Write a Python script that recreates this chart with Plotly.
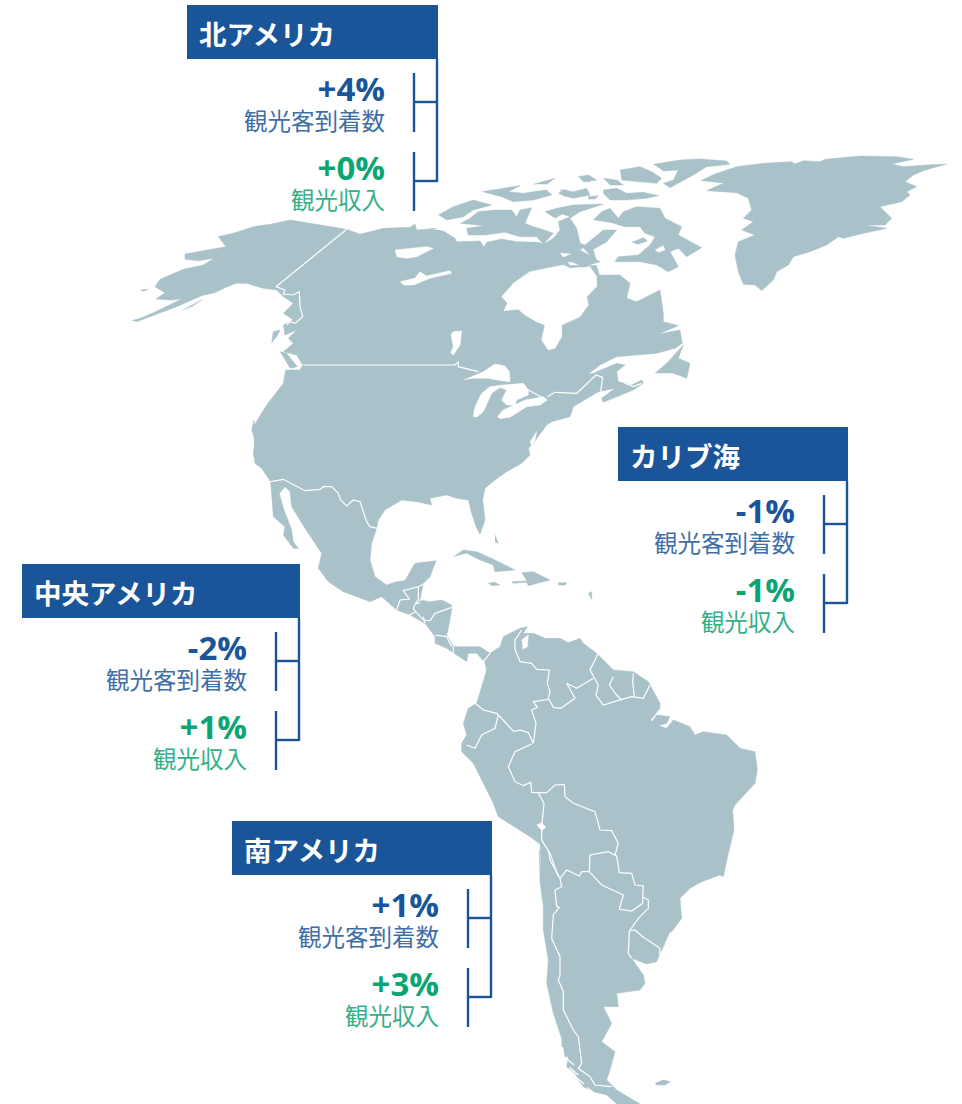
import plotly.graph_objects as go

W, H = 962, 1104
LAND = "#a9c1c9"
BLUE = "#1a5599"
GREEN = "#0ba574"
FONT = "Open Sans, Noto Sans CJK JP, sans-serif"
JP = "Noto Sans CJK JP, sans-serif"

regions = ["北アメリカ", "カリブ海", "中央アメリカ", "南アメリカ"]
arrivals = ["+4%", "-1%", "-2%", "+1%"]
revenue = ["+0%", "-1%", "+1%", "+3%"]
arrivals_label = "観光客到着数"
revenue_label = "観光収入"


def Z(x0, y0, pts):
    return [(x0 + a / 3, y0 + b / 3) for a, b in pts]


def N(p): return Z(120, 150, p)
def G(p): return Z(430, 150, p)
def C(p): return Z(250, 420, p)
def A(p): return Z(440, 620, p)
def S(p): return Z(500, 850, p)
def R1(p): return Z(430, 155, p)
def R2(p): return Z(560, 155, p)
def R3(p): return Z(460, 340, p)


north_america = (
    N([(35, 512), (60, 505), (100, 488), (140, 468), (185, 447), (150, 450), (108, 447), (135, 428), (105, 410), (120, 388),
       (190, 358), (250, 345), (282, 325), (235, 332), (195, 328), (195, 312), (260, 300), (318, 290), (295, 260), (345, 248),
       (400, 230), (455, 222), (510, 210), (600, 225), (680, 238), (720, 253), (790, 235), (870, 232), (885, 222), (890, 240),
       (950, 235)])
    + R1([(0, 222), (40, 228), (75, 250), (80, 260), (150, 258), (162, 275), (170, 262), (215, 252), (260, 260), (325, 262),
          (340, 268), (345, 265), (370, 250), (390, 225), (385, 200), (420, 185)])
    + R2([(-10, 170), (40, 150), (130, 147), (60, 170), (30, 190), (50, 220), (60, 265), (75, 270), (130, 225), (170, 225),
          (140, 260), (80, 295), (20, 298)])
    + G([(490, 300), (510, 375), (570, 375), (600, 400), (590, 445), (620, 455), (690, 420), (700, 490), (700, 515), (745, 527),
         (685, 552), (750, 540), (757, 580), (735, 595), (680, 610), (620, 615), (560, 620), (510, 645), (475, 672), (490, 670),
         (560, 640), (585, 645), (560, 665), (565, 695), (605, 705), (635, 690), (640, 700), (610, 720), (520, 757), (515, 745),
         (555, 715), (505, 725), (430, 770), (420, 800), (365, 815), (350, 825), (310, 880), (290, 900)])
    + C([(835, 85), (840, 105), (815, 130), (770, 155), (735, 180), (705, 205), (698, 240), (705, 300), (690, 342), (678, 320),
         (665, 280), (655, 240), (620, 235), (590, 225), (540, 235), (545, 255), (500, 245), (455, 240), (405, 270), (385, 300),
         (380, 325), (365, 370), (360, 420), (375, 470), (410, 495), (440, 485), (465, 482), (480, 455), (495, 430), (558, 422),
         (540, 470), (520, 490), (510, 540), (540, 545), (575, 540), (605, 555), (605, 570), (595, 625), (590, 645), (610, 680),
         (640, 680), (690, 680), (720, 700), (700, 722), (680, 700), (655, 700), (650, 725), (610, 700), (590, 685), (555, 670),
         (555, 650), (525, 610), (480, 585), (440, 570), (395, 530), (360, 545), (280, 515), (235, 485), (205, 445), (215, 400),
         (165, 325), (125, 260), (120, 215), (105, 200), (88, 220), (100, 265), (125, 330), (130, 365), (145, 385), (130, 385),
         (100, 345), (105, 320), (70, 290), (62, 185), (35, 145), (15, 130), (10, 100), (15, 60), (5, 30), (12, 0)])
    + N([(405, 900), (400, 830), (425, 790), (440, 765), (490, 700), (497, 660), (540, 660), (548, 645), (530, 615), (490, 605),
         (520, 580), (505, 565), (530, 540), (495, 555), (490, 525), (520, 510), (490, 490), (520, 460), (490, 440), (470, 420),
         (430, 415), (380, 400), (350, 400), (250, 435), (170, 470), (100, 495), (50, 515)])
)

south_america = (
    A([(135, 100), (150, 100), (180, 80), (190, 50), (240, 25), (262, 20), (250, 40), (280, 40), (315, 55), (360, 55), (385, 68),
       (420, 55), (430, 70), (470, 100), (520, 150), (580, 155), (625, 185), (660, 250), (660, 265), (632, 300), (640, 312),
       (680, 325), (700, 300), (750, 320), (765, 345), (790, 335), (860, 345), (900, 385), (945, 395), (952, 450), (945, 490),
       (885, 555), (878, 570), (882, 630), (865, 700), (850, 770)])
    + S([(660, 75), (605, 95), (570, 115), (540, 145), (545, 205), (515, 245), (490, 290), (480, 310), (470, 335), (440, 342),
         (395, 325), (430, 375), (435, 400), (420, 420), (350, 430), (355, 470), (310, 470), (335, 520), (305, 575), (345, 605),
         (330, 660), (320, 690), (350, 720), (420, 762), (350, 762), (320, 735), (280, 725), (250, 710), (235, 690), (225, 670),
         (200, 650), (205, 620), (195, 620), (185, 565), (160, 490), (140, 400), (145, 330), (130, 240), (130, 170), (120, 95),
         (118, 0)])
    + A([(305, 780), (300, 672), (270, 650), (175, 590), (160, 550), (100, 430), (65, 395), (65, 370), (80, 345), (70, 310),
         (85, 265), (110, 250), (140, 150), (130, 110)])
)

greenland = G([(812, 92), (855, 72), (920, 50), (1000, 40), (1085, 35), (1095, 42), (1120, 32), (1170, 35), (1185, 28), (1290, 18),
               (1400, 20), (1450, 28), (1385, 42), (1420, 50), (1490, 45), (1550, 42), (1480, 62), (1450, 75), (1425, 95), (1460, 110),
               (1430, 125), (1440, 135), (1415, 155), (1350, 170), (1385, 205), (1365, 225), (1305, 225), (1370, 235), (1300, 250),
               (1240, 265), (1225, 260), (1190, 285), (1140, 305), (1090, 320), (1075, 345), (1040, 365), (1030, 390), (995, 422),
               (975, 405), (940, 403), (925, 365), (915, 315), (925, 275), (975, 255), (935, 240), (970, 215), (940, 205), (965, 180),
               (955, 145), (920, 128), (830, 122), (880, 100)])
baffin = R2([(100, 195), (125, 170), (150, 160), (175, 190), (190, 170), (230, 155), (300, 160), (315, 190), (365, 215), (355, 240),
             (425, 278), (380, 305), (355, 280), (330, 290), (355, 335), (325, 350), (290, 330), (240, 320), (165, 320), (175, 305),
             (235, 300), (270, 270), (285, 245), (255, 235), (240, 215), (195, 215), (160, 205)])
banks = R1([(25, 180), (70, 155), (130, 135), (185, 150), (130, 165), (100, 185), (50, 195)])
victoria = R1([(120, 190), (145, 170), (195, 165), (245, 165), (260, 185), (270, 165), (305, 158), (285, 205), (310, 215), (335, 222),
               (370, 235), (340, 268), (320, 245), (270, 245), (225, 232), (165, 240), (115, 240), (110, 220), (165, 212), (90, 205)])

islands = [
    baffin, banks, victoria, greenland,
    R1([(155, 110), (215, 100), (270, 92), (235, 110), (280, 115), (310, 110), (350, 105), (365, 120), (310, 135), (250, 140), (215, 125), (185, 118)]),
    R1([(310, 88), (375, 70), (350, 88)]),
    R1([(385, 115), (400, 105), (430, 110), (470, 100), (480, 120), (430, 130), (400, 122)]),
    R1([(345, 170), (380, 160), (430, 150), (440, 165), (400, 175), (375, 190)]),
    R1([(445, 65), (480, 65), (480, 80), (460, 80)]),
    R1([(440, 352), (470, 345), (455, 362)]),
    R2([(55, 65), (85, 60), (110, 75), (80, 80)]),
    R2([(0, 105), (20, 105), (30, 120), (60, 105), (70, 120), (30, 128)]),
    R2([(130, 70), (170, 75), (190, 90), (150, 90)]),
    R2([(85, 125), (115, 122), (105, 132), (85, 132)]),
    R2([(130, 105), (170, 100), (200, 115), (250, 112), (295, 122), (260, 130), (200, 135), (150, 135), (130, 115)]),
    R2([(180, 45), (240, 35), (275, 50), (305, 70), (290, 85), (235, 80), (185, 75)]),
    R2([(280, 28), (360, 15), (420, 12), (500, 18), (510, 28), (440, 35), (400, 60), (330, 98), (310, 85), (340, 75), (355, 45), (310, 48)]),
    R3([(585, 100), (625, 65), (670, 15), (655, 55), (690, 70), (680, 115), (640, 100)]),
    N([(185, 482), (245, 450), (215, 470)]),
    N([(230, 440), (290, 415), (350, 397), (280, 430)]),
    N([(60, 420), (85, 418), (70, 424)]),
    N([(455, 578), (460, 545), (480, 540), (470, 560)]),
    N([(480, 605), (500, 610), (532, 650), (510, 655)]),
    C([(610, 410), (640, 390), (680, 395), (735, 420), (795, 450), (735, 455), (730, 435), (690, 420), (650, 400)]),
    C([(815, 458), (850, 455), (900, 480), (860, 490), (835, 497), (830, 487), (790, 490), (785, 485), (830, 483)]),
    C([(715, 490), (735, 487), (750, 495), (725, 497)]),
    C([(925, 488), (950, 488), (945, 495), (925, 495)]),
    C([(735, 345), (745, 370), (735, 365)]),
    C([(1015, 520), (1025, 515), (1025, 540)]),
    A([(650, 285), (690, 290), (680, 310), (645, 320), (635, 305)]),
    S([(465, 700), (490, 690), (512, 695), (495, 705), (470, 705)]),
    S([(165, 490), (180, 485), (185, 510), (170, 520)]),
    S([(185, 560), (200, 590), (185, 590)]),
]

waters = [
    G([(215, 440), (250, 400), (300, 365), (350, 355), (400, 345), (420, 355), (480, 350), (500, 380), (500, 410), (470, 440), (475, 465),
       (450, 500), (395, 525), (395, 560), (375, 595), (355, 600), (335, 570), (345, 525), (320, 515), (285, 495), (265, 478), (222, 482), (232, 460)]),
    G([(390, 310), (430, 312), (460, 295), (490, 330), (520, 345), (540, 350), (510, 375), (500, 345), (450, 345), (420, 345)]),
    R2([(285, 285), (310, 272), (315, 285), (295, 292)]),
    R3([(12, 120), (70, 95), (105, 72), (135, 78), (148, 95), (150, 125), (110, 120), (85, 115), (45, 115)]),
    R3([(40, 230), (45, 200), (65, 160), (90, 140), (130, 135), (190, 130), (205, 150), (205, 165), (170, 180), (165, 195), (140, 195),
        (125, 180), (140, 150), (120, 142), (95, 160), (70, 215), (50, 232)]),
    R3([(112, 230), (130, 210), (195, 180), (250, 170), (262, 180), (240, 195), (200, 200), (150, 232), (120, 236)]),
    R3([(210, 305), (230, 275), (225, 300), (215, 320)]),
    G([(62, 555), (70, 545), (95, 543), (90, 585), (70, 615), (62, 608), (70, 590)]),
    N([(840, 395), (885, 385), (900, 365), (920, 378), (990, 362), (995, 370), (930, 385), (880, 405), (850, 405)]),
    N([(825, 300), (920, 290), (940, 295), (890, 320), (860, 325), (830, 320)]),
    A([(290, 615), (305, 608), (317, 622), (305, 632)]),
    A([(245, 60), (265, 45), (262, 80), (248, 88)]),
    S([(495, 280), (512, 245), (515, 255), (500, 285)]),
]

land_over_water = [
    R2([(5, 310), (60, 285), (120, 320), (70, 335), (35, 320), (5, 322)]),
    R2([(215, 262), (250, 248), (262, 258), (232, 268)]),
]

borders = [
    N([(680, 238), (468, 410), (495, 420), (490, 432), (518, 435), (538, 425), (540, 470), (548, 500), (525, 520), (510, 515), (500, 525)]),
    N([(548, 645), (1005, 645), (1015, 635), (1015, 650), (1075, 665)]),
    R3([(205, 150), (245, 172)]),
    R3([(262, 170), (285, 157), (350, 160), (390, 120), (408, 105), (428, 112), (422, 155)]),
    R3([(487, 115), (495, 130), (520, 140), (545, 130)]),
    C([(62, 185), (100, 178), (165, 212), (210, 208), (220, 200), (245, 200), (265, 220), (272, 240), (290, 258), (310, 240), (330, 245), (350, 305), (360, 320), (382, 325)]),
    C([(440, 570), (450, 540), (478, 537), (460, 512), (505, 500), (505, 540), (495, 552), (510, 548)]),
    C([(505, 500), (525, 490), (515, 540), (505, 540)]),
    C([(478, 585), (497, 575), (520, 600), (540, 602), (555, 580), (605, 562)]),
    C([(497, 575), (490, 565), (495, 552)]),
    C([(525, 610), (520, 590)]),
    C([(555, 645), (590, 650), (605, 680)]),
    C([(610, 680), (610, 700)]),
    C([(700, 725), (720, 700)]),
    A([(245, 30), (225, 60), (225, 88), (240, 125), (275, 130), (290, 148), (328, 150), (322, 190), (330, 215), (325, 235)]),
    A([(325, 238), (280, 245), (292, 262), (275, 270), (288, 310), (280, 370)]),
    A([(280, 370), (265, 338), (240, 330), (222, 335), (175, 285)]),
    A([(105, 250), (130, 270), (170, 280), (175, 285), (165, 325), (125, 345), (105, 385), (80, 375)]),
    A([(275, 372), (225, 395), (205, 440), (225, 485), (250, 497), (272, 487), (275, 517), (295, 518)]),
    A([(295, 518), (320, 518), (345, 495), (373, 493), (375, 530), (400, 550), (465, 575), (480, 630), (515, 632), (535, 670), (525, 705)]),
    A([(325, 235), (340, 262), (362, 265), (405, 235), (380, 190), (410, 205), (460, 175)]),
    A([(475, 100), (450, 150), (462, 172), (475, 195), (468, 225), (490, 255), (545, 238), (575, 230), (610, 235), (630, 195)]),
    A([(520, 170), (508, 195), (530, 225), (545, 240)]),
    A([(580, 160), (578, 185), (583, 230)]),
    A([(295, 518), (312, 550), (305, 620), (305, 660), (330, 700), (355, 770)]),
    S([(145, 0), (150, 30), (180, 85), (185, 110), (165, 120), (170, 170), (178, 172), (160, 195), (155, 265), (180, 320), (180, 375), (175, 390),
       (190, 425), (190, 480), (220, 540), (235, 560), (245, 640), (235, 655), (270, 680), (285, 705), (335, 710)]),
    S([(180, 85), (200, 60), (238, 78), (245, 65), (268, 65), (270, 15), (325, 5), (350, 18), (358, 68), (395, 70), (405, 105), (430, 108), (428, 140)]),
    S([(268, 65), (305, 105), (370, 135), (358, 178), (395, 183), (428, 160), (428, 140), (445, 150), (445, 175), (415, 205), (388, 243)]),
    S([(388, 243), (405, 240), (425, 258), (480, 295), (478, 312)]),
    S([(388, 243), (385, 310), (395, 325)]),
    S([(198, 625), (222, 645)]),
    S([(208, 652), (235, 675)]),
    S([(228, 682), (252, 702)]),
    S([(262, 712), (292, 738)]),
]


def flat(polys):
    xs, ys = [], []
    for poly in polys:
        xs += [p[0] for p in poly] + [None]
        ys += [p[1] for p in poly] + [None]
    return xs, ys


fig = go.Figure()


def fill(polys, colour):
    x, y = flat(polys)
    fig.add_trace(go.Scatter(x=x, y=y, mode="lines", fill="toself", fillcolor=colour,
                             line=dict(color=colour, width=0.5), hoverinfo="skip", showlegend=False))


fill([north_america, south_america] + islands, LAND)
fill(waters, "#ffffff")
fill(land_over_water, LAND)
bx, by = flat(borders)
fig.add_trace(go.Scatter(x=bx, y=by, mode="lines", line=dict(color="#ffffff", width=1.2), hoverinfo="skip", showlegend=False))

panels = [
    dict(left=187, right=438, top=5, tick=414),
    dict(left=618, right=848, top=427, tick=824),
    dict(left=22, right=300, top=564, tick=276),
    dict(left=232, right=492, top=821, tick=468),
]

shapes, notes = [], []
for i, p in enumerate(panels):
    t = p["top"]
    shapes.append(dict(type="rect", xref="x", yref="y", x0=p["left"], x1=p["right"], y0=t, y1=t + 54, fillcolor=BLUE, line_width=0, layer="above"))
    line = dict(type="line", xref="x", yref="y", line=dict(color=BLUE, width=2.4), layer="above")
    rx = p["right"] - 1
    tick = p["tick"]
    shapes += [
        dict(line, x0=rx, x1=rx, y0=t + 54, y1=t + 177),
        dict(line, x0=tick, x1=tick, y0=t + 68, y1=t + 127),
        dict(line, x0=tick, x1=tick, y0=t + 147, y1=t + 206),
        dict(line, x0=tick, x1=rx, y0=t + 97, y1=t + 97),
        dict(line, x0=tick, x1=rx, y0=t + 176, y1=t + 176),
    ]
    tx = tick - 27
    notes += [
        dict(x=p["left"] + 10, y=t + 28, text=f"<b>{regions[i]}</b>", xanchor="left", font=dict(family=JP, size=27.5, color="#ffffff")),
        dict(x=tx, y=t + 96.5, xanchor="right", align="right", font=dict(family=FONT, size=22, color="#3f6fa8"),
             text=f"<span style='font-size:33px;color:{BLUE}'><b>{arrivals[i]}</b></span><br><span style='font-size:23.5px'>{arrivals_label}</span>"),
        dict(x=tx, y=t + 175.5, xanchor="right", align="right", font=dict(family=FONT, size=22, color="#35b088"),
             text=f"<span style='font-size:33px;color:{GREEN}'><b>{revenue[i]}</b></span><br><span style='font-size:23.5px'>{revenue_label}</span>"),
    ]
for n in notes:
    n.update(xref="x", yref="y", yanchor="middle", showarrow=False)

fig.update_layout(
    width=W, height=H, margin=dict(l=0, r=0, t=0, b=0), paper_bgcolor="#ffffff", plot_bgcolor="#ffffff",
    xaxis=dict(range=[0, W], visible=False, fixedrange=True),
    yaxis=dict(range=[H, 0], visible=False, fixedrange=True),
    shapes=shapes, annotations=notes, showlegend=False,
)
fig.write_html("out.html", config=dict(displayModeBar=False),
               post_script="document.body.style.margin='0';")
